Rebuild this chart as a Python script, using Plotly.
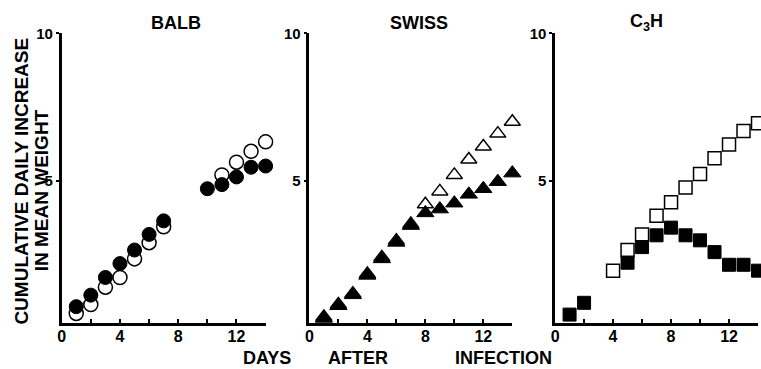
import plotly.graph_objects as go

# ---- data ----
balb_open_days = [1, 2, 3, 4, 5, 6, 7, 11, 12, 13, 14]
balb_open_vals = [0.50, 0.80, 1.39, 1.72, 2.35, 2.90, 3.44, 5.20, 5.63, 6.00, 6.32]
balb_filled_days = [1, 2, 3, 4, 5, 6, 7, 10, 11, 12, 13, 14]
balb_filled_vals = [0.73, 1.12, 1.72, 2.19, 2.65, 3.18, 3.64, 4.73, 4.87, 5.13, 5.46, 5.50]

swiss_open_days = [1, 2, 3, 4, 5, 6, 7, 8, 9, 10, 11, 12, 13, 14]
swiss_open_vals = [0.38, 0.80, 1.17, 1.84, 2.40, 2.97, 3.53, 4.20, 4.64, 5.20, 5.72, 6.16, 6.60, 7.00]
swiss_filled_days = [1, 2, 3, 4, 5, 6, 7, 8, 9, 10, 11, 12, 13, 14]
swiss_filled_vals = [0.33, 0.76, 1.13, 1.79, 2.35, 2.91, 3.48, 3.91, 4.04, 4.24, 4.54, 4.73, 4.97, 5.26]

c3h_open_days = [4, 5, 6, 7, 8, 9, 10, 11, 12, 13, 14]
c3h_open_vals = [1.95, 2.65, 3.18, 3.81, 4.27, 4.77, 5.23, 5.76, 6.23, 6.69, 6.95]
c3h_filled_days = [1, 2, 5, 6, 7, 8, 9, 10, 11, 12, 13, 14]
c3h_filled_vals = [0.46, 0.86, 2.22, 2.75, 3.15, 3.41, 3.15, 2.98, 2.58, 2.15, 2.15, 1.95]

panel_titles = ["BALB", "SWISS", "C<sub>3</sub>H"]
x_tickvals = [0, 4, 8, 12]
x_ticktext = ["<b>0</b>", "<b>4</b>", "<b>8</b>", "<b>12</b>"]
x_minorvals = [2, 6, 10, 14]
y_tickvals = [5, 10]
y_ticktext = ["<b>5</b>", "<b>10</b>"]

W, H = 761, 369
FONT = "Liberation Sans"

def px_x(p):
    return p / W

def px_y(p):
    return 1 - p / H

panels = [
    (58, 263, balb_open_days, balb_open_vals, balb_filled_days, balb_filled_vals, "circle", 14, 14),
    (307, 511, swiss_open_days, swiss_open_vals, swiss_filled_days, swiss_filled_vals, "triangle-up", 14, 15),
    (554, 758, c3h_open_days, c3h_open_vals, c3h_filled_days, c3h_filled_vals, "square", 13, 13),
]

fig = go.Figure()
layout = dict(
    width=W, height=H, margin=dict(l=0, r=0, t=0, b=0),
    paper_bgcolor="white", plot_bgcolor="white", showlegend=False,
    font=dict(family=FONT, color="black"),
)
annotations = []
for i, (x0, x1, od, ov, fd, fv, sym, osz, fsz) in enumerate(panels):
    n = "" if i == 0 else str(i + 1)
    xa, ya = "x" + n, "y" + n
    fig.add_trace(go.Scatter(
        x=od, y=ov, mode="markers", xaxis=xa, yaxis=ya, cliponaxis=False,
        marker=dict(symbol=sym, size=osz, color="white", line=dict(color="black", width=1.5)),
    ))
    fig.add_trace(go.Scatter(
        x=fd, y=fv, mode="markers", xaxis=xa, yaxis=ya, cliponaxis=False,
        marker=dict(symbol=sym, size=fsz, color="black", line=dict(color="black", width=1)),
    ))
    layout["xaxis" + n] = dict(
        domain=[px_x(x0), px_x(x1)], range=[0, 14], anchor=ya,
        showline=True, linecolor="black", linewidth=2.5, showgrid=False, zeroline=False,
        tickmode="array", tickvals=x_tickvals, ticktext=x_ticktext,
        ticks="inside", ticklen=4, tickwidth=1.5, tickcolor="black",
        minor=dict(tickmode="array", tickvals=x_minorvals, ticks="inside", ticklen=4,
                   tickwidth=1.5, tickcolor="black", showgrid=False),
        ticklabelstandoff=-3,
        tickfont=dict(family=FONT, size=16, color="black"),
    )
    layout["yaxis" + n] = dict(
        domain=[px_y(322), px_y(25)], range=[0.17, 10], anchor=xa,
        showline=True, linecolor="black", linewidth=2.5, showgrid=False, zeroline=False,
        tickmode="array", tickvals=y_tickvals, ticktext=y_ticktext,
        ticks="outside", ticklen=3, tickwidth=1.5, tickcolor="black",
        tickfont=dict(family=FONT, size=15, color="black"),
    )

title_x = [173, 417, 646]
for t, cx in zip(panel_titles, title_x):
    annotations.append(dict(
        text="<b>" + t + "</b>", x=px_x(cx), y=px_y(14), xref="paper", yref="paper",
        showarrow=False, xanchor="center", yanchor="middle",
        font=dict(family=FONT, size=18, color="black"),
    ))

annotations.append(dict(
    text="<b>CUMULATIVE DAILY INCREASE</b>", x=px_x(18), y=px_y(176), xref="paper", yref="paper",
    showarrow=False, textangle=-90, xanchor="center", yanchor="middle",
    font=dict(family=FONT, size=19, color="black"),
))
annotations.append(dict(
    text="<b>IN MEAN WEIGHT</b>", x=px_x(38), y=px_y(186), xref="paper", yref="paper",
    showarrow=False, textangle=-90, xanchor="center", yanchor="middle",
    font=dict(family=FONT, size=19, color="black"),
))

for word, cx in [("DAYS", 264), ("AFTER", 356), ("INFECTION", 502)]:
    annotations.append(dict(
        text="<b>" + word + "</b>", x=px_x(cx), y=px_y(358), xref="paper", yref="paper",
        showarrow=False, xanchor="center", yanchor="middle",
        font=dict(family=FONT, size=18, color="black"),
    ))

layout["annotations"] = annotations
fig.update_layout(**layout)
fig.write_html("out.html")
